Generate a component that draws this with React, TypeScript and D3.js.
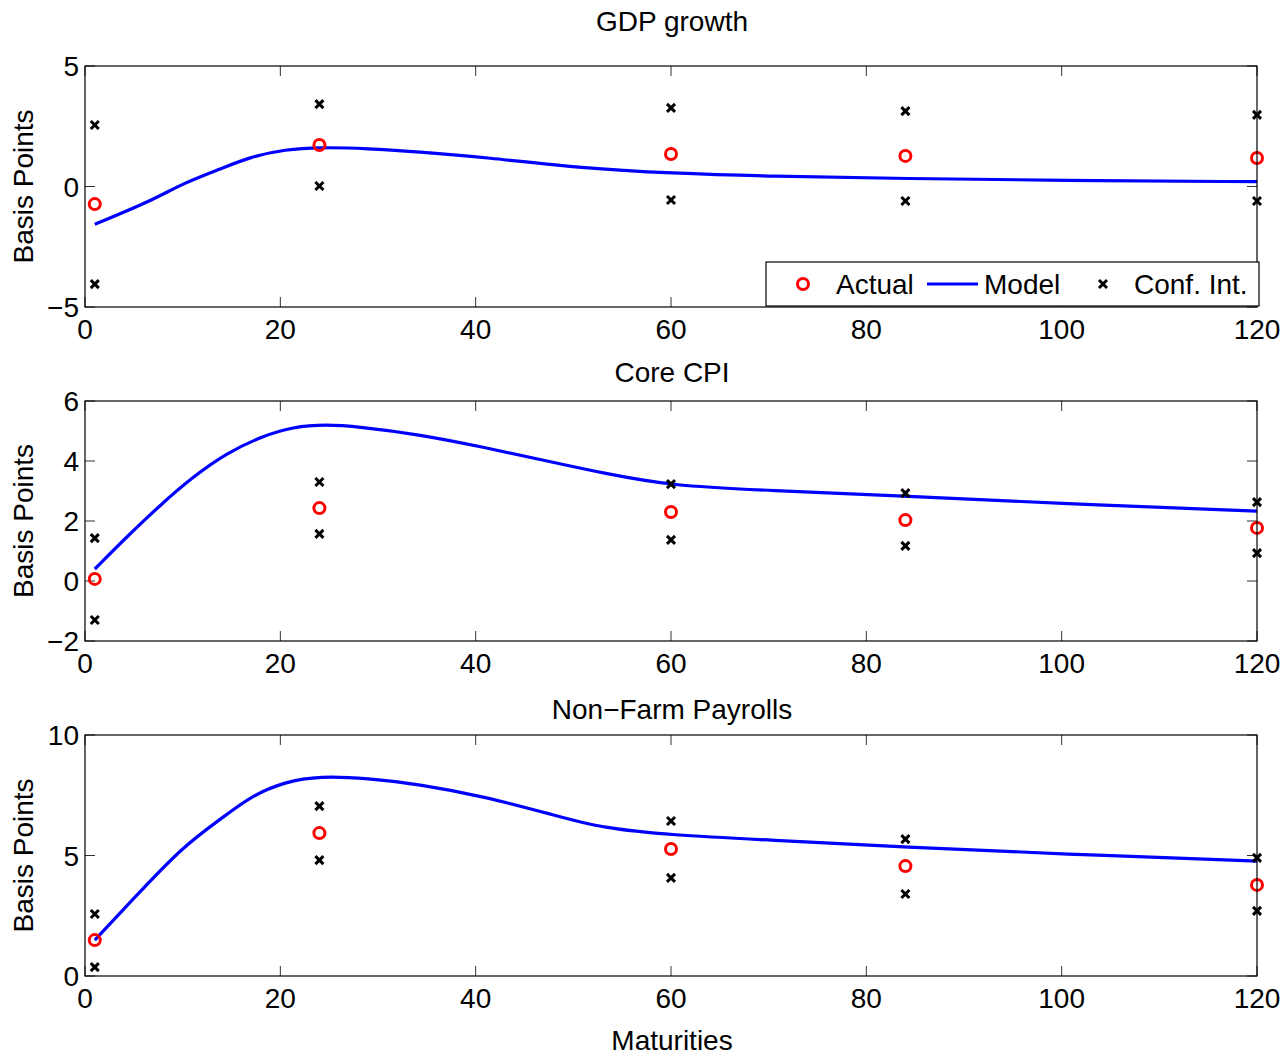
import React from "react";
import * as d3 from "d3";

// maturities where observations exist
const maturities = [1, 24, 60, 84, 120];

// GDP growth
const gdpActual = [-0.73, 1.72, 1.35, 1.27, 1.18];
const gdpUpper = [2.55, 3.42, 3.26, 3.13, 2.97];
const gdpLower = [-4.05, 0.02, -0.56, -0.6, -0.6];
const gdpModelX = [1, 7, 10, 14, 17, 20.5, 24, 29, 34, 41, 51, 60, 70, 84, 100, 120];
const gdpModelY = [-1.57, -0.56, 0.13, 0.75, 1.24, 1.54, 1.63, 1.58, 1.44, 1.21, 0.75, 0.55, 0.42, 0.33, 0.25, 0.2];

// Core CPI
const cpiActual = [0.07, 2.43, 2.3, 2.03, 1.77];
const cpiUpper = [1.43, 3.3, 3.23, 2.93, 2.63];
const cpiLower = [-1.3, 1.57, 1.37, 1.17, 0.93];
const cpiModelX = [1, 4.3, 7.7, 11, 14.5, 18, 21.3, 24.7, 28, 34, 41, 48, 53, 60, 70, 84, 100, 120];
const cpiModelY = [0.4, 1.48, 2.53, 3.46, 4.26, 4.81, 5.14, 5.22, 5.14, 4.9, 4.45, 3.95, 3.6, 3.17, 3.02, 2.83, 2.58, 2.33];

// Non-Farm Payrolls
const nfpActual = [1.49, 5.93, 5.27, 4.56, 3.78];
const nfpUpper = [2.57, 7.05, 6.43, 5.68, 4.9];
const nfpLower = [0.37, 4.81, 4.07, 3.4, 2.7];
const nfpModelX = [1, 5, 10, 14, 17, 20.5, 24, 29, 34, 41, 48, 53, 60, 70, 84, 100, 120];
const nfpModelY = [1.49, 3.22, 5.37, 6.54, 7.47, 8.06, 8.3, 8.2, 7.97, 7.44, 6.68, 6.13, 5.85, 5.64, 5.35, 5.06, 4.77];

const xTicks = [0, 20, 40, 60, 80, 100, 120];

const panels = [
  { title: "GDP growth", titleY: 31, domain: [-5, 5], yTicks: [-5, 0, 5], top: 66, bottom: 307,
    actual: gdpActual, upper: gdpUpper, lower: gdpLower, mx: gdpModelX, my: gdpModelY, legend: true },
  { title: "Core CPI", titleY: 382, domain: [-2, 6], yTicks: [-2, 0, 2, 4, 6], top: 401, bottom: 641,
    actual: cpiActual, upper: cpiUpper, lower: cpiLower, mx: cpiModelX, my: cpiModelY, legend: false },
  { title: "Non\u2212Farm Payrolls", titleY: 719, domain: [0, 10], yTicks: [0, 5, 10], top: 735, bottom: 976,
    actual: nfpActual, upper: nfpUpper, lower: nfpLower, mx: nfpModelX, my: nfpModelY, legend: false },
];

const font = "'Liberation Sans', Arial, Helvetica, sans-serif";
const fs = 28;
const left = 85;
const right = 1257;

const Cross = ({ cx, cy }: { cx: number; cy: number }) => (
  <path d={`M${cx - 4},${cy - 4}L${cx + 4},${cy + 4}M${cx - 4},${cy + 4}L${cx + 4},${cy - 4}`}
    stroke="#000" strokeWidth={3} />
);

const Panel = ({ p }: { p: any }) => {
  const x = d3.scaleLinear().domain([0, 120]).range([left, right]);
  const y = d3.scaleLinear().domain(p.domain).range([p.bottom, p.top]);
  const line = d3.line<number>()
    .x((_, i) => x(p.mx[i]))
    .y(d => y(d))
    .curve(d3.curveBasis);
  const tick = 10;
  return (
    <g>
      <text x={(left + right) / 2 + 1} y={p.titleY} fontSize={fs} textAnchor="middle" fontFamily={font}>{p.title}</text>
      {xTicks.map(t => (
        <g key={"x" + t}>
          <line x1={x(t)} x2={x(t)} y1={p.bottom} y2={p.bottom - tick} stroke="#333" />
          <line x1={x(t)} x2={x(t)} y1={p.top} y2={p.top + tick} stroke="#333" />
          <text x={x(t)} y={p.bottom + 32} fontSize={fs} textAnchor="middle" fontFamily={font}>{t}</text>
        </g>
      ))}
      {p.yTicks.map((t: number) => (
        <g key={"y" + t}>
          <line x1={left} x2={left + tick} y1={y(t)} y2={y(t)} stroke="#333" />
          <line x1={right} x2={right - tick} y1={y(t)} y2={y(t)} stroke="#333" />
          <text x={79} y={y(t) + 10} fontSize={fs} textAnchor="end" fontFamily={font}>
            {String(t).replace("-", "\u2212")}
          </text>
        </g>
      ))}
      <text transform={`translate(33,${(p.top + p.bottom) / 2}) rotate(-90)`} fontSize={fs}
        textAnchor="middle" fontFamily={font}>Basis Points</text>
      <path d={line(p.my) || ""} fill="none" stroke="#0000ff" strokeWidth={3.2} />
      {maturities.map((m, i) => (
        <g key={"m" + m}>
          <circle cx={x(m)} cy={y(p.actual[i])} r={5.5} fill="none" stroke="#ff0000" strokeWidth={3} />
          <Cross cx={x(m)} cy={y(p.upper[i])} />
          <Cross cx={x(m)} cy={y(p.lower[i])} />
        </g>
      ))}
      <rect x={left} y={p.top} width={right - left} height={p.bottom - p.top} fill="none" stroke="#000" strokeWidth={1.2} />
      {p.legend && (
        <g>
          <rect x={766} y={262} width={493} height={44} fill="#fff" stroke="#000" strokeWidth={1.2} />
          <circle cx={803} cy={284} r={5.5} fill="none" stroke="#ff0000" strokeWidth={3} />
          <text x={836} y={294} fontSize={fs} fontFamily={font}>Actual</text>
          <line x1={927} x2={978} y1={284} y2={284} stroke="#0000ff" strokeWidth={3.2} />
          <text x={984} y={294} fontSize={fs} fontFamily={font}>Model</text>
          <Cross cx={1103} cy={284} />
          <text x={1134} y={294} fontSize={fs} fontFamily={font}>Conf. Int.</text>
        </g>
      )}
    </g>
  );
};

export default function App() {
  return (
    <svg width={1284} height={1059} style={{ position: "absolute", left: 0, top: 0, background: "#fff" }}>
      <rect width={1284} height={1059} fill="#fff" />
      {panels.map(p => <Panel key={p.title} p={p} />)}
      <text x={672} y={1050} fontSize={fs} textAnchor="middle" fontFamily={font}>Maturities</text>
    </svg>
  );
}
